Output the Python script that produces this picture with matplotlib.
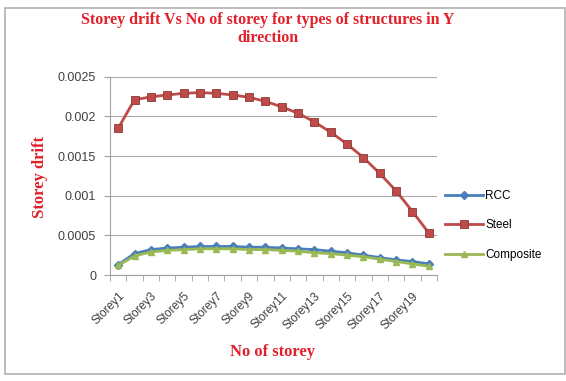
import matplotlib.pyplot as plt
import numpy as np
from matplotlib.patches import Rectangle

# Dati
storeys = [f"Storey{i}" for i in range(1, 21)]
rcc = [0.00013, 0.00027, 0.00032, 0.00034, 0.00035, 0.00036, 0.00036, 0.00036,
       0.00035, 0.00035, 0.00034, 0.00033, 0.00032, 0.00030, 0.00028, 0.00025,
       0.00022, 0.00019, 0.00017, 0.00014]
steel = [0.00185, 0.00221, 0.002245, 0.00227, 0.00229, 0.0023, 0.00229, 0.00227,
         0.00224, 0.00219, 0.00212, 0.00204, 0.00193, 0.00180, 0.00165, 0.00148,
         0.00128, 0.00106, 0.00080, 0.00053]
composite = [0.00012, 0.00024, 0.00029, 0.00031, 0.00032, 0.00033, 0.00033, 0.00033,
             0.00032, 0.00032, 0.00031, 0.00030, 0.00028, 0.00027, 0.00025, 0.00023,
             0.00020, 0.00017, 0.00014, 0.00011]
yticks = [0, 0.0005, 0.001, 0.0015, 0.002, 0.0025]

red = "#e0202a"
fig = plt.figure(figsize=(5.66, 3.81), dpi=100)
fig.patches.append(Rectangle((5 / 566, 7 / 381), 560 / 566, 366 / 381, transform=fig.transFigure,
                             fill=False, edgecolor="#b0b0b0", linewidth=1.2))
ax = fig.add_axes([110 / 566, 1 - 275 / 381, 327 / 566, 198.3 / 381])

x = np.arange(len(storeys))
ax.plot(x, rcc, color="#4a7ebb", marker="D", markersize=4, linewidth=2, label="RCC")
ax.plot(x, steel, color="#be4b48", marker="s", markersize=6, linewidth=2,
        markeredgecolor="#8c3836", markeredgewidth=0.6, label="Steel")
ax.plot(x, composite, color="#98b954", marker="^", markersize=5, linewidth=2, label="Composite")

ax.set_xlim(-0.5, len(storeys) - 0.5)
ax.set_ylim(0, 0.0025)
ax.set_yticks(yticks)
ax.set_yticklabels(["0", "0.0005", "0.001", "0.0015", "0.002", "0.0025"],
                   fontsize=9, color="#404040", family="Liberation Sans")
ax.set_xticks(x[::2])
ax.set_xticklabels(storeys[::2], rotation=45, ha="right", rotation_mode="anchor",
                   fontsize=8.5, color="#404040", family="Liberation Sans")
ax.set_xticks(np.arange(-0.5, len(storeys), 1), minor=True)
ax.tick_params(axis="x", which="major", length=0, pad=11)
ax.tick_params(axis="x", which="minor", length=4, color="#a0a0a0")
ax.tick_params(axis="y", length=4, color="#a0a0a0", pad=6)
ax.grid(axis="y", color="#a8a8a8", linewidth=0.8)
ax.set_axisbelow(True)
for s in ["top", "right"]:
    ax.spines[s].set_visible(False)
for s in ["left", "bottom"]:
    ax.spines[s].set_color("#a0a0a0")

fig.text(268 / 566, 1 - 29 / 381, "Storey drift Vs No of storey for types of structures in Y\ndirection",
         ha="center", va="center", fontsize=11.5, fontweight="bold", color=red,
         family="Liberation Serif", linespacing=1.2)
fig.text(273 / 566, 1 - 352 / 381, "No of storey", ha="center", va="center",
         fontsize=12, fontweight="bold", color=red, family="Liberation Serif")
fig.text(40 / 566, 1 - 177 / 381, "Storey drift", ha="center", va="center", rotation=90,
         fontsize=12, fontweight="bold", color=red, family="Liberation Serif")

ax.legend(loc="center left", bbox_to_anchor=(1.0, 0.25), frameon=False,
          handlelength=3.2, labelspacing=1.5, handletextpad=0.2, borderaxespad=0.3,
          prop={"family": "Liberation Sans", "size": 8.5})

fig.savefig("out.png", dpi=100, facecolor="white")
